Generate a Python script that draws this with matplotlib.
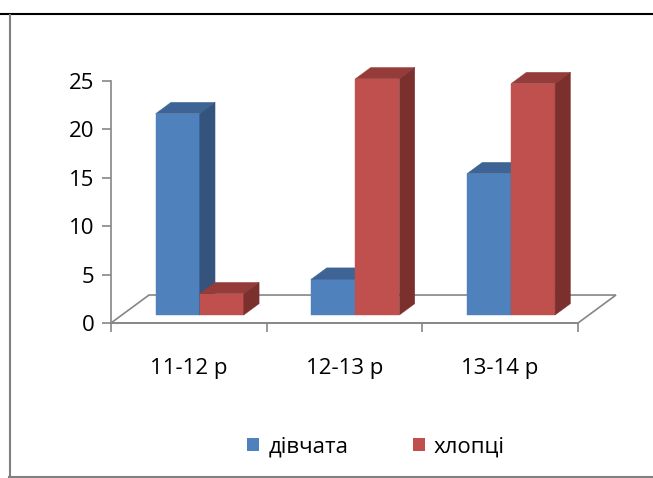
import matplotlib
matplotlib.use("Agg")
import matplotlib.pyplot as plt
from matplotlib.patches import Polygon, Patch
from matplotlib.lines import Line2D

# data
categories = ["11-12 р", "12-13 р", "13-14 р"]
series_names = ["дівчата", "хлопці"]
girls = [20.8, 3.7, 14.6]
boys = [2.2, 24.4, 23.9]

# colours: front, top, side for each series
blue = ("#4F81BD", "#3D6494", "#34547D")
red = ("#C0504D", "#953C3A", "#7B302E")
gray = "#868686"

plt.rcParams['font.family'] = ['Open Sans', 'DejaVu Sans']
FS = 16

W, H = 653, 478
fig = plt.figure(figsize=(W / 100, H / 100), dpi=100)
ax = fig.add_axes([111 / W, (H - 323) / H, 467 / W, 242 / H])
ax.set_xlim(-0.5, 2.5)
ax.set_ylim(0, 25)

# depth of the floor in data units (x in categories, y in values)
dx, dy = 0.244, 2.89
d0, d1 = 0.286, 0.69   # front and back planes of the bars
bar_w = 0.283

# floor outline
floor = Polygon([(-0.5, 0), (2.5, 0), (2.5 + dx, dy), (-0.5 + dx, dy)],
                closed=True, facecolor="white", edgecolor=gray, lw=1.2,
                clip_on=False, zorder=1)
ax.add_patch(floor)


def draw_bar(xl, v, cols):
    xr = xl + bar_w
    yb = d0 * dy
    yt = yb + v
    t = d1 - d0
    ox, oy = t * dx, t * dy
    front = Polygon([(xl, yb), (xr, yb), (xr, yt), (xl, yt)])
    top = Polygon([(xl, yt), (xr, yt), (xr + ox, yt + oy), (xl + ox, yt + oy)])
    side = Polygon([(xr, yb), (xr + ox, yb + oy), (xr + ox, yt + oy), (xr, yt)])
    for p, c in zip((front, top, side), cols):
        p.set_facecolor(c)
        p.set_edgecolor(c)
        p.set_linewidth(0.3)
        p.set_clip_on(False)
        p.set_zorder(3)
        ax.add_patch(p)


for i in range(len(categories)):
    base = i - bar_w + d0 * dx
    draw_bar(base, girls[i], blue)
    draw_bar(base + bar_w, boys[i], red)

# axes styling
for s in ("top", "right"):
    ax.spines[s].set_visible(False)
for s in ("left", "bottom"):
    ax.spines[s].set_color(gray)
    ax.spines[s].set_linewidth(1.2)
    ax.spines[s].set_zorder(2)
ax.patch.set_visible(False)

ax.set_yticks(range(0, 26, 5))
ax.tick_params(axis="y", direction="out", length=6.5, width=1.2, color=gray,
               pad=5.5, labelsize=FS)
ax.set_xticks([-0.5, 0.5, 1.5, 2.5])
ax.set_xticklabels([])
ax.set_xticks(range(len(categories)), categories, minor=True)
ax.tick_params(axis="x", which="major", direction="out", length=6.5,
               width=1.2, color=gray)
ax.tick_params(axis="x", which="minor", length=0, pad=25, labelsize=FS)

# legend
handles = [Patch(facecolor=blue[0]), Patch(facecolor=red[0])]
fig.legend(handles, series_names, loc="center", ncol=2, frameon=False,
           bbox_to_anchor=(376 / W, 1 - 447 / H), fontsize=FS,
           handlelength=0.55, handleheight=0.55, handletextpad=0.4,
           columnspacing=2.9)

# page borders
fig.add_artist(Line2D([0, 1], [1 - 14 / H] * 2, color="black", lw=1.5))
fig.add_artist(Line2D([9.5 / W] * 2, [1 - 15 / H, 1 - 477 / H], color="#808080", lw=1.5))
fig.add_artist(Line2D([9 / W, 1], [1 - 476.5 / H] * 2, color="#808080", lw=1.5))

fig.savefig("out.png", dpi=100)
